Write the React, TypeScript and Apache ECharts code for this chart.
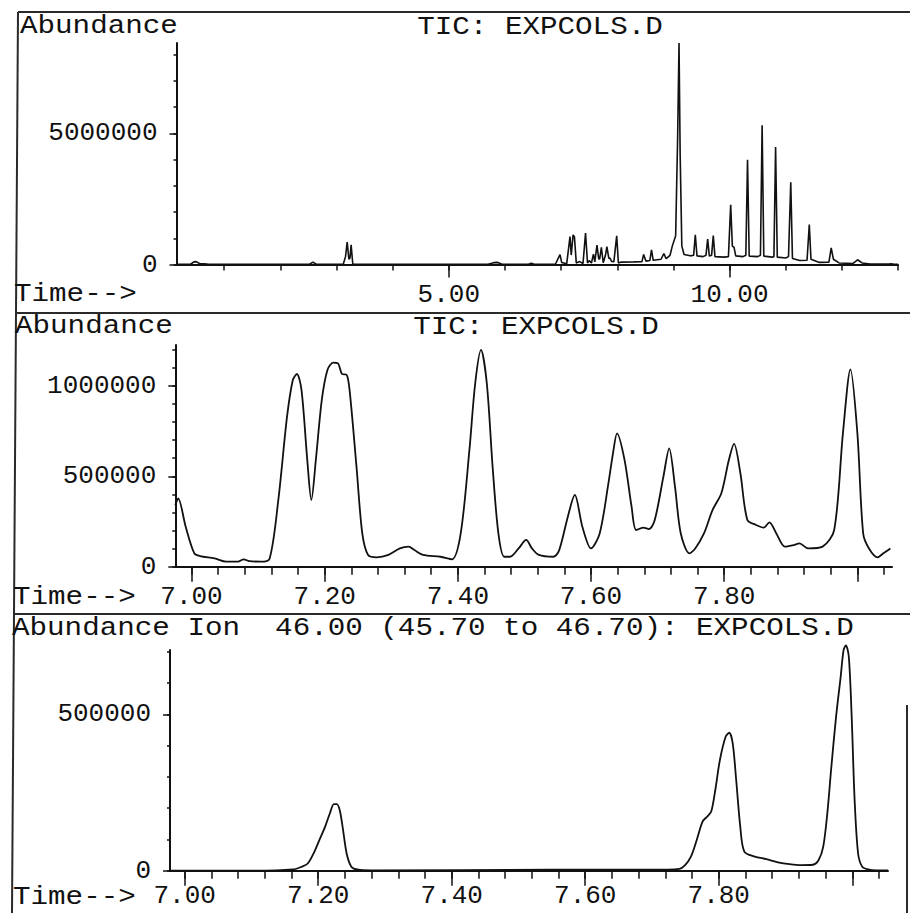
import React, { useEffect, useRef } from "react";
import * as echarts from "echarts";

const FONT = "'Courier New', 'Liberation Mono', monospace";
const INK = "#111";

// ---------- Panel 1: TIC, full run ----------
const tic1Time = [
  0.15, 0.4, 0.46, 0.5, 0.56, 0.7, 1.0,
  2.52, 2.58, 2.64,
  3.12, 3.16, 3.19, 3.22, 3.24, 3.26, 3.29,
  5.7, 5.8, 5.87, 5.95,
  6.42, 6.47, 6.52,
  6.9, 6.98, 7.01, 7.1,
  7.158, 7.18, 7.213, 7.237, 7.27, 7.33, 7.39,
  7.435, 7.47, 7.5, 7.54, 7.576, 7.6,
  7.639, 7.67, 7.687, 7.717, 7.75,
  7.79, 7.815, 7.85, 7.87, 7.9, 7.94,
  7.99, 8.02, 8.06,
  8.3, 8.44, 8.47, 8.51,
  8.58, 8.61, 8.64,
  8.78, 8.83, 8.87,
  8.94, 8.98, 9.04, 9.075, 9.1, 9.12, 9.15, 9.19,
  9.3, 9.36, 9.39, 9.42,
  9.53, 9.58, 9.61, 9.64,
  9.68, 9.71, 9.74,
  9.9, 9.98, 10.02, 10.05, 10.08, 10.11,
  10.24, 10.29, 10.32, 10.35,
  10.5, 10.55, 10.58, 10.61,
  10.76, 10.79, 10.82, 10.85,
  11.0, 11.05, 11.09, 11.12,
  11.25, 11.38, 11.42, 11.45,
  11.6, 11.77, 11.81, 11.85,
  11.95, 12.2, 12.28, 12.36,
  12.5, 12.84, 12.88, 12.93, 13.0,
];
const tic1Abund = [
  10000, 10000, 100000, 110000, 40000, 15000, 8000,
  8000, 90000, 10000,
  8000, 300000, 850000, 200000, 250000, 750000, 10000,
  8000, 70000, 80000, 10000,
  8000, 50000, 8000,
  20000, 378000, 80000, 30000,
  1066000, 360000, 1129000, 1061000, 60000, 110000, 40000,
  1200000, 55000, 148000, 55000, 397000, 100000,
  738000, 210000, 210000, 655000, 70000,
  350000, 679000, 230000, 245000, 115000, 110000,
  1092000, 60000, 90000,
  100000, 110000, 380000, 130000,
  150000, 560000, 160000,
  200000, 420000, 220000,
  350000, 700000, 1100000, 4800000, 8440000, 4200000, 700000, 380000,
  330000, 350000, 1130000, 330000,
  300000, 350000, 970000, 320000,
  350000, 1100000, 300000,
  280000, 300000, 2280000, 700000, 650000, 330000,
  300000, 350000, 3990000, 320000,
  300000, 350000, 5310000, 320000,
  280000, 300000, 4480000, 280000,
  250000, 300000, 3130000, 230000,
  150000, 160000, 1520000, 200000,
  80000, 90000, 630000, 200000,
  60000, 40000, 180000, 60000,
  20000, 15000, 30000, 10000, 10000,
];

// ---------- Panel 2: TIC, 7.0 - 8.0 min ----------
const tic2Time = [
  6.9757, 6.98, 6.9913, 7.0043, 7.013, 7.0348, 7.0522, 7.0696, 7.0783, 7.087,
  7.1043, 7.1174, 7.1304, 7.1435, 7.1522, 7.1583, 7.1652, 7.1739, 7.18, 7.187,
  7.1957, 7.2043, 7.213, 7.22, 7.2261, 7.233, 7.2374, 7.2478, 7.2565, 7.2652,
  7.2783, 7.2957, 7.313, 7.3261, 7.3348, 7.3478, 7.3739, 7.3913, 7.4043, 7.4174,
  7.4261, 7.4348, 7.4435, 7.4522, 7.4609, 7.4696, 7.4783, 7.4913, 7.5026, 7.5113,
  7.5217, 7.5435, 7.5522, 7.5652, 7.5757, 7.587, 7.6, 7.613, 7.6261, 7.633,
  7.6391, 7.6504, 7.6609, 7.6678, 7.6783, 7.687, 7.6957, 7.7087, 7.7174, 7.7261,
  7.7348, 7.7478, 7.7565, 7.7696, 7.7826, 7.7957, 7.807, 7.8148, 7.8243, 7.8348,
  7.8478, 7.8591, 7.8678, 7.8783, 7.8913, 7.9043, 7.913, 7.9261, 7.9478, 7.9652,
  7.9783, 7.9896, 8.0, 8.0087, 8.0174, 8.0304, 8.0391, 8.0496,
];
const tic2Abund = [
  341000, 378000, 221000, 74000, 59000, 46000, 28000, 28000, 41000, 31000,
  28000, 46000, 369000, 830000, 1033000, 1066000, 978000, 590000, 369000, 600000,
  923000, 1090000, 1129000, 1125000, 1066000, 1061000, 978000, 554000, 184000, 65000,
  52000, 65000, 101000, 111000, 92000, 65000, 55000, 41000, 184000, 646000,
  1015000, 1199000, 1015000, 554000, 184000, 55000, 55000, 101000, 148000, 101000,
  65000, 55000, 92000, 277000, 397000, 221000, 101000, 184000, 461000, 627000,
  738000, 590000, 332000, 203000, 216000, 208000, 258000, 498000, 655000, 443000,
  184000, 74000, 101000, 184000, 314000, 406000, 590000, 679000, 517000, 258000,
  231000, 216000, 245000, 184000, 111000, 120000, 129000, 101000, 111000, 203000,
  738000, 1092000, 738000, 184000, 101000, 52000, 74000, 101000,
];

// ---------- Panel 3: Ion 46.00 ----------
const ion46Time = [
  6.9783, 7.1, 7.1626, 7.1757, 7.1843, 7.193, 7.2017, 7.2104, 7.2174, 7.2235,
  7.2278, 7.2322, 7.2365, 7.2426, 7.2496, 7.2583, 7.28, 7.55, 7.7, 7.7409,
  7.7496, 7.7583, 7.767, 7.7757, 7.7826, 7.7887, 7.7948, 7.8017, 7.8104, 7.8157,
  7.8209, 7.8261, 7.8322, 7.8383, 7.8539, 7.8713, 7.8887, 7.9061, 7.9235, 7.9409,
  7.9496, 7.9565, 7.9626, 7.9687, 7.9757, 7.9826, 7.987, 7.9904, 7.9948, 7.9991,
  8.0035, 8.0087, 8.0148, 8.0235, 8.0365, 8.0535,
];
const ion46Abund = [
  0, 0, 4000, 13000, 23000, 55000, 98000, 141000, 183000, 213000,
  213000, 194000, 141000, 55000, 13000, 4000, 1000, 3000, 3000, 6000,
  18000, 45000, 98000, 157000, 173000, 189000, 258000, 354000, 429000, 441000,
  407000, 290000, 141000, 61000, 45000, 37000, 27000, 21000, 18000, 19000,
  34000, 77000, 183000, 333000, 492000, 620000, 706000, 720000, 684000, 492000,
  226000, 55000, 13000, 4000, 1000, 1000,
];

// ---------- Ticks and labels ----------
const p1XTicks = [1, 2, 3, 4, 5, 6, 7, 8, 9, 10, 11, 12, 13];
const p1XLabels = [5, 10];
const p1YTicks = [0, 1000000, 2000000, 3000000, 4000000, 5000000, 6000000, 7000000, 8000000];
const p1YLabels = [0, 5000000];

const zoomXTicks = [
  7.0, 7.04, 7.08, 7.12, 7.16, 7.2, 7.24, 7.28, 7.32, 7.36, 7.4, 7.44, 7.48, 7.52,
  7.56, 7.6, 7.64, 7.68, 7.72, 7.76, 7.8, 7.84, 7.88, 7.92, 7.96, 8.0, 8.04,
];
const zoomXMajor = [7.0, 7.2, 7.4, 7.6, 7.8, 8.0];
const zoomXLabels = [7.0, 7.2, 7.4, 7.6, 7.8];
const p2YTicks = [0, 100000, 200000, 300000, 400000, 500000, 600000, 700000, 800000, 900000, 1000000, 1100000, 1200000];
const p2YLabels = [0, 500000, 1000000];
const p3YTicks = [0, 100000, 200000, 300000, 400000, 500000, 600000, 700000];
const p3YLabels = [0, 500000];

const titleTic = "TIC: EXPCOLS.D";
const titleIon = "Abundance Ion  46.00 (45.70 to 46.70): EXPCOLS.D";

function pairs(xs: number[], ys: number[]) {
  return xs.map((x, i) => [x, ys[i]]);
}

type PanelCfg = {
  grid: number;
  xMin: number; xMax: number; yMax: number;
  xTicks: number[]; xMajor: number[]; xLabels: number[];
  yTicks: number[]; yLabels: number[];
  xMinorLen: number; xMajorLen: number; xLabelMargin: number;
};

function axesFor(c: PanelCfg) {
  const line = { color: INK, width: 2 };
  const tickStyle = { color: INK, width: 1.5 };
  const labelStyle = { fontSize: 26, fontFamily: FONT, color: INK };
  const xAxes = [
    {
      type: "value", gridIndex: c.grid, min: c.xMin, max: c.xMax, position: "bottom",
      axisLine: { show: true, onZero: false, lineStyle: line },
      axisTick: { show: true, customValues: c.xTicks, length: c.xMinorLen, lineStyle: tickStyle },
      axisLabel: { show: false }, splitLine: { show: false },
    },
    {
      type: "value", gridIndex: c.grid, min: c.xMin, max: c.xMax, position: "bottom",
      axisLine: { show: false, onZero: false },
      axisTick: { show: true, customValues: c.xMajor, length: c.xMajorLen, lineStyle: tickStyle },
      axisLabel: {
        show: true, customValues: c.xLabels, margin: c.xLabelMargin, ...labelStyle,
        formatter: (v: number) => Number(v).toFixed(2),
      },
      splitLine: { show: false },
    },
  ];
  const yAxes = [
    {
      type: "value", gridIndex: c.grid, min: 0, max: c.yMax, position: "left",
      axisLine: { show: true, onZero: false, lineStyle: line },
      axisTick: { show: true, customValues: c.yTicks, length: 3, lineStyle: tickStyle },
      axisLabel: { show: false }, splitLine: { show: false },
    },
    {
      type: "value", gridIndex: c.grid, min: 0, max: c.yMax, position: "left",
      axisLine: { show: false, onZero: false },
      axisTick: { show: true, customValues: c.yLabels, length: 7, lineStyle: tickStyle },
      axisLabel: {
        show: true, customValues: c.yLabels, margin: 19, ...labelStyle,
        formatter: (v: number) => String(Math.round(v)),
      },
      splitLine: { show: false },
    },
  ];
  return { xAxes, yAxes };
}

function txt(text: string, x: number, y: number, align: string = "left") {
  return {
    type: "text", x, y, scaleX: 1.17, silent: true,
    style: { text, fontSize: 25, fontFamily: FONT, fill: INK, align, verticalAlign: "middle" },
  };
}

function buildOption() {
  const p1 = axesFor({
    grid: 0, xMin: 0.15, xMax: 13.0, yMax: 8440000,
    xTicks: p1XTicks, xMajor: p1XLabels, xLabels: p1XLabels,
    yTicks: p1YTicks, yLabels: p1YLabels, xMinorLen: 6, xMajorLen: 13, xLabelMargin: 17,
  });
  const p2 = axesFor({
    grid: 1, xMin: 6.9757, xMax: 8.052, yMax: 1226500,
    xTicks: zoomXTicks, xMajor: zoomXMajor, xLabels: zoomXLabels,
    yTicks: p2YTicks, yLabels: p2YLabels, xMinorLen: 8, xMajorLen: 15, xLabelMargin: 17,
  });
  const p3 = axesFor({
    grid: 2, xMin: 6.978, xMax: 8.0535, yMax: 705600,
    xTicks: zoomXTicks, xMajor: zoomXMajor, xLabels: zoomXLabels,
    yTicks: p3YTicks, yLabels: p3YLabels, xMinorLen: 8, xMajorLen: 15, xLabelMargin: 12,
  });

  const lineStyle = (w: number) => ({ color: INK, width: w });
  const frame = { stroke: "#2a2a2a", lineWidth: 2 };

  return {
    animation: false,
    backgroundColor: "#ffffff",
    grid: [
      { left: 176.5, right: 12, top: 43, bottom: 648.5, outerBoundsMode: "none" },
      { left: 175.3, right: 18, top: 345, bottom: 346.3, outerBoundsMode: "none" },
      { left: 170, right: 22, top: 650, bottom: 42.3, outerBoundsMode: "none" },
    ],
    xAxis: [...p1.xAxes, ...p2.xAxes, ...p3.xAxes],
    yAxis: [...p1.yAxes, ...p2.yAxes, ...p3.yAxes],
    series: [
      {
        type: "line", xAxisIndex: 0, yAxisIndex: 0, data: pairs(tic1Time, tic1Abund),
        showSymbol: false, symbol: "none", clip: false, silent: true, lineStyle: lineStyle(1.6),
      },
      {
        type: "line", xAxisIndex: 2, yAxisIndex: 2, data: pairs(tic2Time, tic2Abund),
        showSymbol: false, symbol: "none", clip: false, silent: true, smooth: 0.3,
        lineStyle: lineStyle(1.8),
      },
      {
        type: "line", xAxisIndex: 4, yAxisIndex: 4, data: pairs(ion46Time, ion46Abund),
        showSymbol: false, symbol: "none", clip: false, silent: true, smooth: 0.3,
        lineStyle: lineStyle(1.8),
      },
    ],
    graphic: [
      { type: "polyline", silent: true, shape: { points: [[18, 12], [12, 913]] }, style: { ...frame, fill: null } },
      { type: "line", silent: true, shape: { x1: 18, y1: 12, x2: 910, y2: 12 }, style: frame },
      { type: "line", silent: true, shape: { x1: 16, y1: 313, x2: 910, y2: 313 }, style: frame },
      { type: "line", silent: true, shape: { x1: 14, y1: 614, x2: 910, y2: 614 }, style: frame },
      { type: "line", silent: true, shape: { x1: 907, y1: 705, x2: 907, y2: 913 }, style: frame },
      txt("Abundance", 20, 26),
      txt(titleTic, 540, 27, "center"),
      txt("Time-->", 14, 294),
      txt("Abundance", 15, 326),
      txt(titleTic, 536, 327, "center"),
      txt("Time-->", 13, 597),
      txt(titleIon, 12, 628),
      txt("Time-->", 13, 897),
    ],
  };
}

export default function App() {
  const ref = useRef<HTMLDivElement>(null);
  useEffect(() => {
    if (!ref.current) return;
    const chart = echarts.init(ref.current, null, { renderer: "svg", width: 910, height: 913 });
    chart.setOption(buildOption() as any);
    return () => {
      chart.dispose();
    };
  }, []);
  return (
    <div
      ref={ref}
      style={{ position: "absolute", left: 0, top: 0, width: 910, height: 913, background: "#fff" }}
    />
  );
}
